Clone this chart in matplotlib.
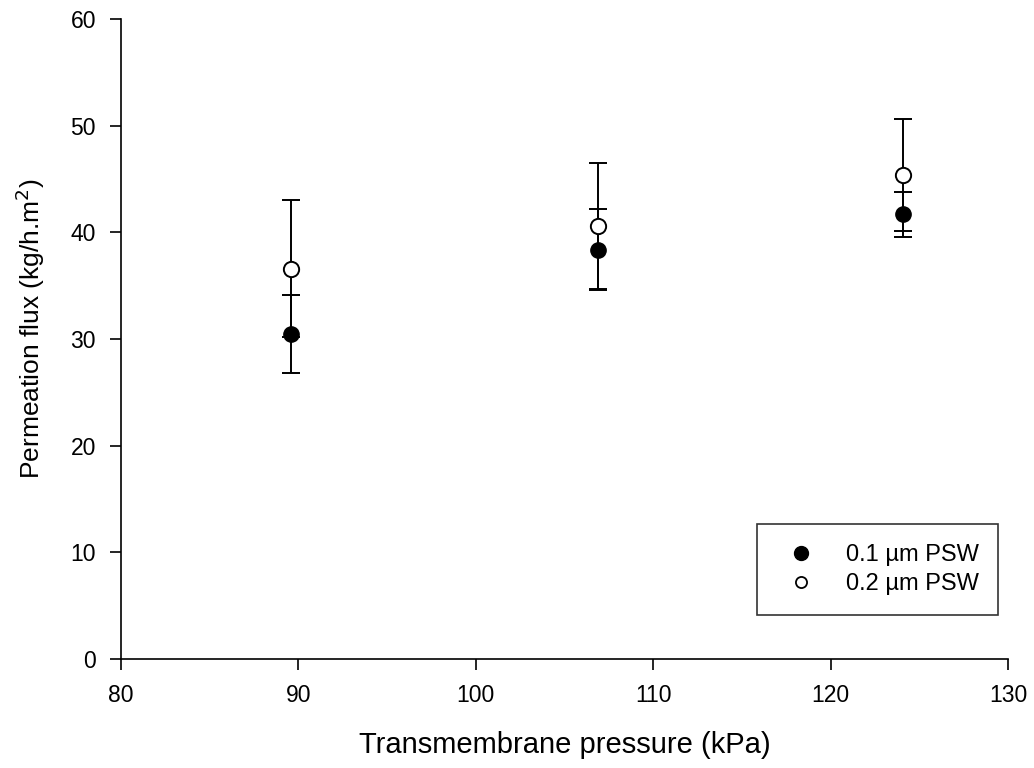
import matplotlib
matplotlib.use("Agg")
import matplotlib.pyplot as plt
from matplotlib.lines import Line2D

plt.rcParams['font.family'] = ['Liberation Sans', 'DejaVu Sans']

# Transmembrane pressure (kPa)
pressure = [89.6, 106.9, 124.1]

# Permeation flux (kg/h.m2) with standard deviations
flux_01 = [30.5, 38.4, 41.7]
err_01 = [3.65, 3.8, 2.1]
flux_02 = [36.6, 40.6, 45.4]
err_02 = [6.4, 5.9, 5.25]

labels = ["0.1 \u00b5m PSW", "0.2 \u00b5m PSW"]

fig = plt.figure(figsize=(10.34, 7.68), dpi=100)
ax = fig.add_axes([0.117, 0.142, 0.858, 0.833])

ax.errorbar(pressure, flux_01, yerr=err_01, fmt='o', color='black',
            markerfacecolor='black', markeredgecolor='black', markersize=11,
            ecolor='black', elinewidth=1.4, capsize=6.5, capthick=1.4,
            zorder=3)
ax.errorbar(pressure, flux_02, yerr=err_02, fmt='o', color='black',
            markerfacecolor='white', markeredgecolor='black', markersize=11,
            markeredgewidth=1.4, ecolor='black', elinewidth=1.4, capsize=6.5,
            capthick=1.4, zorder=4)

ax.set_xlim(80, 130)
ax.set_ylim(0, 60)
ax.set_xticks(range(80, 131, 10))
ax.set_yticks(range(0, 61, 10))

for side in ('top', 'right'):
    ax.spines[side].set_visible(False)
for side in ('left', 'bottom'):
    ax.spines[side].set_linewidth(1.2)

ax.tick_params(direction='out', length=8, width=1.2, labelsize=16.5, pad=10)

ax.set_xlabel("Transmembrane pressure (kPa)", fontsize=21)
ax.xaxis.label.set_va('center')
ax.xaxis.set_label_coords(0.5, -0.134)
ax.set_ylabel("Permeation flux (kg/h.m$^2$)", fontsize=19)
ax.yaxis.label.set_va('center')
ax.yaxis.set_label_coords(-0.1026, 0.516)

handles = [
    Line2D([], [], linestyle='none', marker='o', markersize=10,
           markerfacecolor='black', markeredgecolor='black'),
    Line2D([], [], linestyle='none', marker='o', markersize=8,
           markerfacecolor='white', markeredgecolor='black',
           markeredgewidth=1.3),
]
leg = fig.legend(handles, labels, loc='upper left',
                 bbox_to_anchor=(757 / 1034, 1 - 524 / 768),
                 fontsize=17, frameon=True, fancybox=False,
                 edgecolor='black', borderpad=0.85, handletextpad=0.9,
                 labelspacing=0.3, borderaxespad=0.0, handlelength=2.0)
leg.get_frame().set_linewidth(1.2)

fig.savefig("out.png", dpi=100)
